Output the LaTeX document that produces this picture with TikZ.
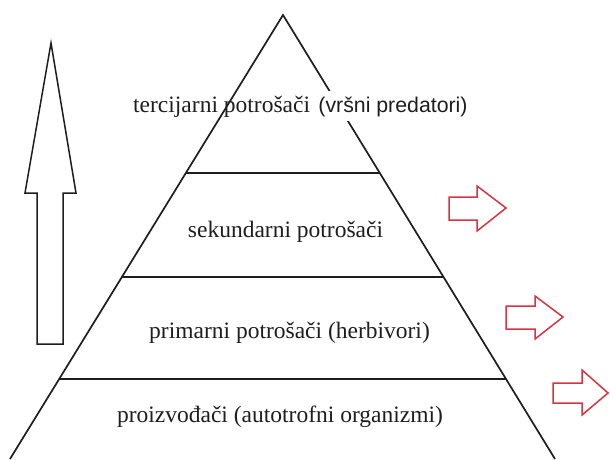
\documentclass[tikz,border=0pt]{standalone}
\usepackage{fontspec}
\setmainfont{Liberation Serif}
\newfontfamily\sansf{Liberation Sans}
\usetikzlibrary{calc}
\definecolor{arrred}{RGB}{214,52,66}
\definecolor{ink}{RGB}{30,30,30}
\tikzset{
  edge/.style={draw=ink, line width=1.7pt},
  sep/.style={draw=ink, line width=1.7pt},
  bigarrow/.style={draw=ink, line width=1.5pt, line join=miter, fill=white},
  redarrow/.style={draw=arrred, line width=1.5pt, line join=miter, fill=white},
  lvl/.style={inner sep=0pt, text=ink, font=\fontsize{23.5}{28}\selectfont},
  lvlsans/.style={inner xsep=0pt, inner ysep=5pt, fill=white, text=ink, font=\sansf\fontsize{21.3}{25}\selectfont}
}
\begin{document}
\begin{tikzpicture}[x=1pt,y=-1pt]
\useasboundingbox (0,0) rectangle (610,459);
% pyramid corners
\coordinate (apex) at (283,15);
\coordinate (bl) at (10,459);
\coordinate (br) at (555,459);
\draw[edge] (bl) -- (apex) -- (br);
% separators
\foreach \t/\n in {0.356/a,0.590/b,0.820/c}{
  \coordinate (L\n) at ($(apex)!\t!(bl)$);
  \coordinate (R\n) at ($(apex)!\t!(br)$);
  \draw[sep] (L\n) -- (R\n);
}
% labels
\node[lvl, anchor=base west] (t3a) at (133,112) {tercijarni potrošači};
\node[lvlsans, anchor=base west] (t3b) at ($(t3a.base east)+(8,0)$) {(vršni predatori)};
\node[lvl, anchor=base] (t2) at (285.5,237) {sekundarni potrošači};
\node[lvl, anchor=base] (t1) at (289.5,338) {primarni potrošači (herbivori)};
\node[lvl, anchor=base] (t0) at (280,422) {proizvođači (autotrofni organizmi)};
% left big arrow
\draw[bigarrow] (51,43) -- (76,193) -- (63,193) -- (63,344) -- (37,344) -- (37,193) -- (25,193) -- cycle;
% red arrows
\draw[redarrow] (449,197) -- (477,197) -- (477,186) -- (506,208) -- (477,231) -- (477,220) -- (449,220) -- cycle;
\draw[redarrow] (506,306) -- (535,306) -- (535,296) -- (563,317) -- (535,339) -- (535,329) -- (506,329) -- cycle;
\draw[redarrow] (553,383) -- (582,383) -- (582,370) -- (608,393) -- (582,415) -- (582,403) -- (553,403) -- cycle;
\end{tikzpicture}
\end{document}
